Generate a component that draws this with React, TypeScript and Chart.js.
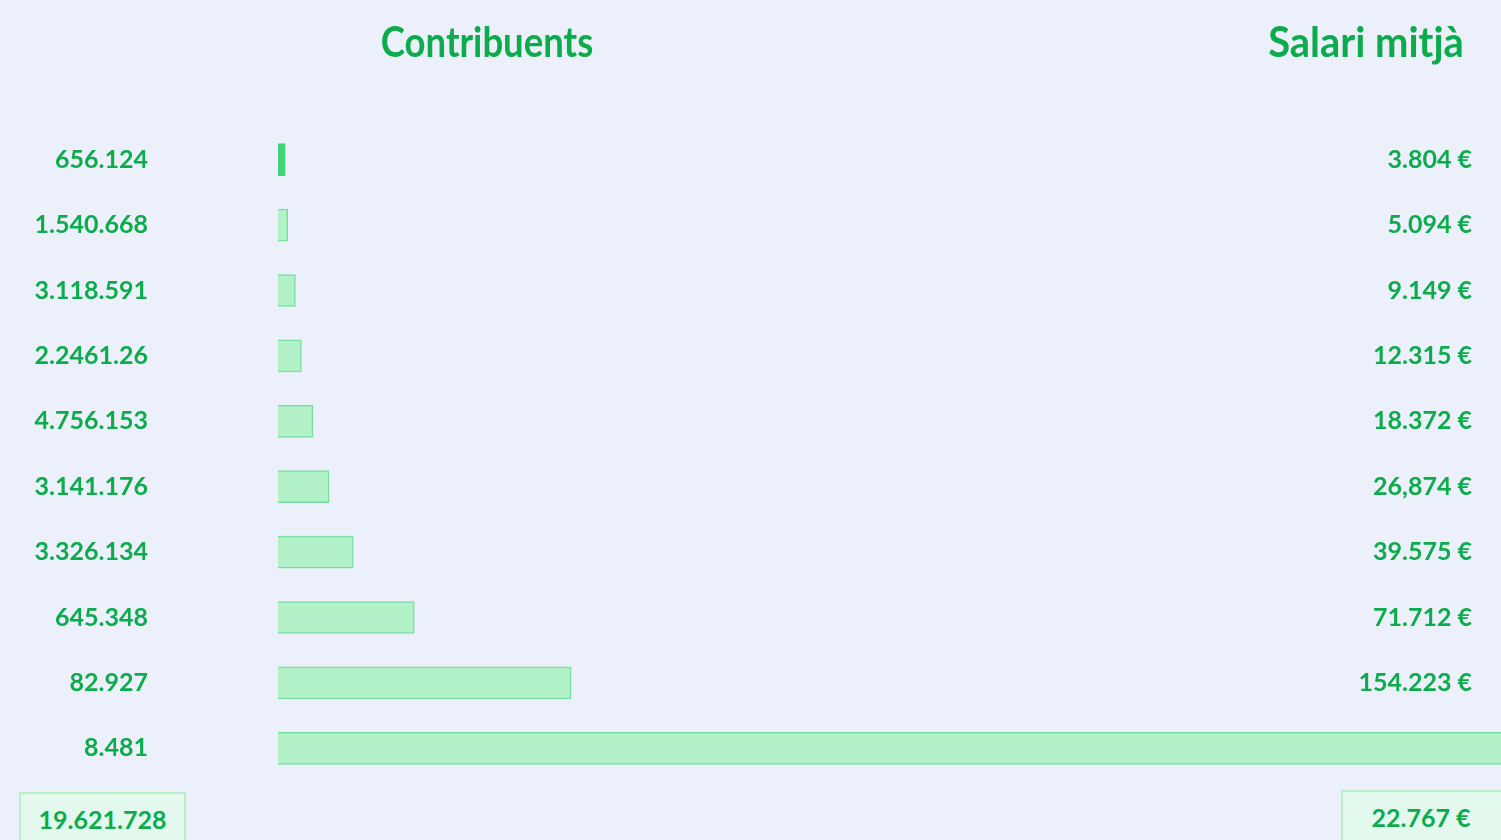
import React, { useEffect, useRef } from 'react';
import { Chart, registerables } from 'chart.js';

Chart.register(...registerables);

// ---- data ----
const contribuents = ['656.124', '1.540.668', '3.118.591', '2.2461.26', '4.756.153', '3.141.176', '3.326.134', '645.348', '82.927', '8.481'];
const salaris = [3804, 5094, 9149, 12315, 18372, 26874, 39575, 71712, 154223, 645809];
const salariLabels = ['3.804 €', '5.094 €', '9.149 €', '12.315 €', '18.372 €', '26,874 €', '39.575 €', '71.712 €', '154.223 €', '645.809 €'];
const titolContribuents = 'Contribuents';
const titolSalari = 'Salari mitjà';
const totalContribuents = '19.621.728';
const totalSalariMitja = '22.767 €';

const GREEN = '#0cab4b';
const BG = '#ecf0fb';
const BAR_FILL = '#b3f2c9';
const BAR_BORDER = '#78dea0';
const BAR_FIRST = '#3fd37b';
const FONT = 'Lato, "Open Sans", sans-serif';

const noPad = (s: any) => {
  s.paddingTop = 0;
  s.paddingBottom = 0;
};

export default function App() {
  const ref = useRef<HTMLCanvasElement>(null);

  useEffect(() => {
    document.body.style.margin = '0';
    document.body.style.background = BG;
    document.body.style.overflow = 'hidden';
    const chart = new Chart(ref.current!, {
      type: 'bar',
      data: {
        labels: contribuents,
        datasets: [
          {
            data: salaris,
            backgroundColor: salaris.map((_, i) => (i === 0 ? BAR_FIRST : BAR_FILL)),
            borderColor: salaris.map((_, i) => (i === 0 ? BAR_FIRST : BAR_BORDER)),
            borderWidth: 1.5,
            barThickness: 32,
            clip: false as any,
            yAxisID: 'y',
          },
        ],
      },
      options: {
        indexAxis: 'y',
        responsive: false,
        maintainAspectRatio: false,
        animation: false,
        layout: { padding: { top: 127, bottom: 59, left: 0, right: 29 } },
        plugins: { legend: { display: false }, tooltip: { enabled: false } },
        scales: {
          x: { display: false, min: 0, max: 544000 },
          y: {
            type: 'category',
            position: 'left',
            offset: true,
            grid: { display: false, drawTicks: false },
            border: { display: false },
            ticks: { color: GREEN, font: { family: FONT, size: 25, weight: 'bold' }, padding: 130 },
            afterFit: (s: any) => {
              s.width = 278;
              noPad(s);
            },
          },
          y2: {
            type: 'category',
            labels: salariLabels,
            position: 'right',
            offset: true,
            display: true,
            z: 1,
            grid: { display: false, drawTicks: false },
            border: { display: false },
            ticks: { crossAlign: 'far', color: GREEN, font: { family: FONT, size: 25, weight: 'bold' }, padding: 0 },
            afterFit: (s: any) => {
              s.width = 160;
              noPad(s);
            },
          },
        } as any,
      },
    });
    return () => chart.destroy();
  }, []);

  const titleStyle: React.CSSProperties = {
    position: 'absolute',
    top: 20,
    color: GREEN,
    fontFamily: FONT,
    fontWeight: 'bold',
    fontSize: 42,
    lineHeight: 1,
    whiteSpace: 'nowrap',
  };
  const boxStyle: React.CSSProperties = {
    position: 'absolute',
    height: 60,
    boxSizing: 'border-box',
    background: '#e3f9ee',
    border: '2px solid #b5f0cb',
    color: GREEN,
    fontFamily: FONT,
    fontWeight: 'bold',
    fontSize: 25,
    lineHeight: '54px',
    textAlign: 'center',
    paddingBottom: 8,
  };

  return (
    <div style={{ position: 'relative', width: 1501, height: 840, overflow: 'hidden', background: BG }}>
      <canvas ref={ref} width={1501} height={840} style={{ display: 'block' }} />
      <div style={{ ...titleStyle, left: 487, transform: 'translateX(-50%) scaleX(0.87)' }}>{titolContribuents}</div>
      <div style={{ ...titleStyle, left: 1366, transform: 'translateX(-50%) scaleX(0.95)' }}>{titolSalari}</div>
      <div style={{ ...boxStyle, left: 19, top: 792, width: 167 }}>
        <div style={{ marginTop: -2 }}>{totalContribuents}</div>
      </div>
      <div style={{ ...boxStyle, left: 1341, top: 790, width: 165, paddingRight: 5 }}>
        <div style={{ marginTop: -2 }}>{totalSalariMitja}</div>
      </div>
    </div>
  );
}
